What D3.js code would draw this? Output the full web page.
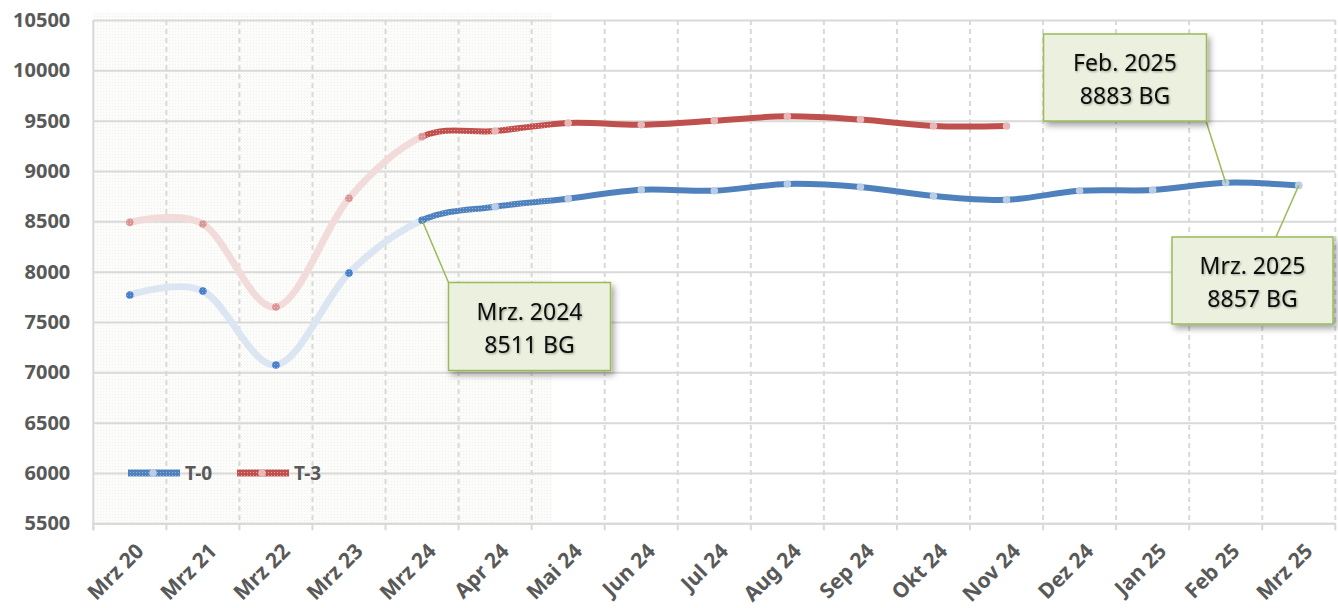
<!DOCTYPE html>
<html><head><meta charset="utf-8">
<script src="https://cdn.jsdelivr.net/npm/d3@7"></script>
<style>
html,body{margin:0;padding:0;background:#fff;}
svg{display:block;}
</style></head>
<body>
<svg id="chart" width="1338" height="608"></svg>
<script>
// ---- data ----
const categories = ["Mrz 20","Mrz 21","Mrz 22","Mrz 23","Mrz 24","Apr 24","Mai 24","Jun 24","Jul 24","Aug 24","Sep 24","Okt 24","Nov 24","Dez 24","Jan 25","Feb 25","Mrz 25"];
const seriesT0 = [7768,7808,7073,7987,8511,8645,8725,8814,8804,8871,8841,8752,8714,8804,8811,8883,8857];
const seriesT3 = [8490,8473,7649,8729,9341,9397,9477,9460,9500,9543,9511,9447,9447];
const seriesNames = ["T-0","T-3"];
const yTickValues = [5500,6000,6500,7000,7500,8000,8500,9000,9500,10000,10500];
const calloutIndex = [4,15,16];
const calloutTitles = ["Mrz. 2024","Feb. 2025","Mrz. 2025"];

// ---- layout ----
const W = 1338, H = 608;
const L = 93.3, R = 1335.3, T = 20, B = 523.3;
const svg = d3.select("#chart");
const defs = svg.append("defs");

const x = d3.scaleBand().domain(categories).range([L, R]).padding(0);
const bw = x.bandwidth();
const cx = c => x(c) + bw / 2;
const y = d3.scaleLinear().domain([5500, 10500]).range([B, T]);

// patterns
function stipple(id, base, dot) {
  const p = defs.append("pattern").attr("id", id).attr("patternUnits", "userSpaceOnUse")
    .attr("width", 3).attr("height", 3);
  p.append("rect").attr("width", 3).attr("height", 3).attr("fill", base);
  p.append("rect").attr("x", 1).attr("y", 1).attr("width", 1).attr("height", 1).attr("fill", dot);
}
stipple("bgStip", "#fcfcfa", "#f0f0eb");
stipple("stipB", "#4f81bd", "#8fb0da");
stipple("stipR", "#c0504d", "#e29b98");
stipple("stipBm", "#4a7fc9", "#84a9de");
stipple("stipRm", "#d99694", "#ecc0be");

const sh = defs.append("filter").attr("id", "shadow").attr("x", "-20%").attr("y", "-20%").attr("width", "150%").attr("height", "160%");
sh.append("feDropShadow").attr("dx", 3).attr("dy", 4).attr("stdDeviation", 3).attr("flood-color", "#000").attr("flood-opacity", 0.35);
const tsh = defs.append("filter").attr("id", "tshadow").attr("x", "-10%").attr("y", "-20%").attr("width", "130%").attr("height", "160%");
tsh.append("feDropShadow").attr("dx", 1).attr("dy", 1).attr("stdDeviation", 0.8).attr("flood-color", "#000").attr("flood-opacity", 0.35);

// stippled background region (up to stipple end)
const stipEnd = 552;
svg.append("rect").attr("x", L).attr("y", 13).attr("width", stipEnd - L).attr("height", B - 13)
  .attr("fill", "url(#bgStip)");

// horizontal gridlines via axis
const yAxis = d3.axisLeft(y).tickValues(yTickValues).tickSize(-(R - L)).tickFormat(d3.format("d")).tickPadding(22);
const gy = svg.append("g").attr("transform", `translate(${L},0)`).call(yAxis);
gy.select(".domain").remove();
gy.selectAll(".tick line").attr("stroke", "#d9d9d9").attr("stroke-width", 2);
gy.selectAll(".tick text").attr("fill", "#595959").style("font-family", "'Noto Sans', sans-serif")
  .style("font-size", "20px").style("font-weight", "bold").attr("x", -23);

// vertical dashed gridlines at band boundaries
const bounds = categories.map((c) => x(c) + bw);
svg.append("g").selectAll("line").data(bounds).join("line")
  .attr("x1", d => d).attr("x2", d => d).attr("y1", T).attr("y2", B)
  .attr("stroke", "#d9d9d9").attr("stroke-width", 2).attr("stroke-dasharray", "5,4");
// left axis line
svg.append("line").attr("x1", L).attr("x2", L).attr("y1", T).attr("y2", B + 7)
  .attr("stroke", "#d9d9d9").attr("stroke-width", 2);
// bottom axis
const xAxis = d3.axisBottom(x).tickSize(0).tickFormat(d => d);
const gx = svg.append("g").attr("transform", `translate(0,${B})`).call(xAxis);
gx.select(".domain").attr("stroke", "#d9d9d9").attr("stroke-width", 2);
gx.selectAll(".tick line").remove();
gx.selectAll(".tick text")
  .attr("fill", "#595959").style("font-family", "'Noto Sans', sans-serif")
  .style("font-size", "21px").style("font-weight", "bold")
  .attr("text-anchor", "end").attr("dy", "0.35em").attr("y", 0)
  .attr("transform", `translate(10,24) rotate(-45)`);
// small ticks under axis at boundaries
svg.append("g").selectAll("line").data([L].concat(bounds)).join("line")
  .attr("x1", d => d).attr("x2", d => d).attr("y1", B).attr("y2", B + 7)
  .attr("stroke", "#d9d9d9").attr("stroke-width", 2);

// ---- lines ----
const line = d3.line().x((d, i) => cx(categories[i])).y(d => y(d)).curve(d3.curveCardinal.tension(0));
const xStart = cx(categories[4]);
function clip(id, x0, x1) {
  defs.append("clipPath").attr("id", id).append("rect").attr("x", x0).attr("y", 0).attr("width", x1 - x0).attr("height", H);
}
clip("cFade", 0, xStart);
clip("cStip", xStart, stipEnd);
clip("cSolid", stipEnd, W);

const series = [
  {data: seriesT3, fade: "#f2dcdb", solid: "#c0504d", stip: "url(#stipR)", mDark: "url(#stipRm)", mLight: "#e6b9b8"},
  {data: seriesT0, fade: "#dce6f2", solid: "#4f81bd", stip: "url(#stipB)", mDark: "url(#stipBm)", mLight: "#b9cde5"}
];
const lw = 6;
series.forEach(s => {
  const d = line(s.data);
  svg.append("path").attr("d", d).attr("fill", "none").attr("stroke", s.fade).attr("stroke-width", lw + 1)
    .attr("stroke-linecap", "round").attr("clip-path", "url(#cFade)");
  svg.append("path").attr("d", d).attr("fill", "none").attr("stroke", s.stip).attr("stroke-width", lw)
    .attr("clip-path", "url(#cStip)");
  svg.append("path").attr("d", d).attr("fill", "none").attr("stroke", s.solid).attr("stroke-width", lw)
    .attr("stroke-linecap", "round").attr("clip-path", "url(#cSolid)");
  svg.append("g").selectAll("circle").data(s.data).join("circle")
    .attr("cx", (v, i) => cx(categories[i])).attr("cy", v => y(v)).attr("r", 3.8)
    .attr("fill", (v, i) => i <= 4 ? s.mDark : s.mLight);
});

// ---- legend ----
const legY = y(6000);
const leg = [
  {x0: 128, name: seriesNames[0], stip: "url(#stipB)", m: "#b9cde5"},
  {x0: 237, name: seriesNames[1], stip: "url(#stipR)", m: "#e6b9b8"}
];
leg.forEach(l => {
  svg.append("rect").attr("x", l.x0).attr("y", legY - 3.5).attr("width", 52).attr("height", 7).attr("fill", l.stip);
  svg.append("circle").attr("cx", l.x0 + 25).attr("cy", legY).attr("r", 3.8).attr("fill", l.m);
  svg.append("text").attr("x", l.x0 + 57).attr("y", legY).attr("dy", "0.36em").text(l.name)
    .attr("fill", "#595959").style("font-family", "'Noto Sans', sans-serif").style("font-size", "19px").style("font-weight", "bold");
});

// ---- callouts ----
const boxes = [
  {bx: 448.5, by: 282.5, bw: 162, bh: 88, ax: 448.5, ay: 282.5},
  {bx: 1043.5, by: 34, bw: 163, bh: 87, ax: 1206, ay: 121},
  {bx: 1172, by: 237, bw: 161, bh: 87, ax: 1276, ay: 237}
];
calloutIndex.forEach((idx, k) => {
  const b = boxes[k];
  const px = cx(categories[idx]), py = y(seriesT0[idx]);
  svg.append("line").attr("x1", px).attr("y1", py).attr("x2", b.ax).attr("y2", b.ay)
    .attr("stroke", "#9bbb59").attr("stroke-width", 1.5);
  svg.append("rect").attr("x", b.bx).attr("y", b.by).attr("width", b.bw).attr("height", b.bh)
    .attr("fill", "#ebf1de").attr("stroke", "#9bbb59").attr("stroke-width", 1.5).attr("filter", "url(#shadow)");
  const t = svg.append("text").attr("text-anchor", "middle").attr("fill", "#111")
    .style("font-family", "'Noto Sans', sans-serif").style("font-size", "23px").attr("filter", "url(#tshadow)");
  t.append("tspan").attr("x", b.bx + b.bw / 2).attr("y", b.by + 37).text(calloutTitles[k]);
  t.append("tspan").attr("x", b.bx + b.bw / 2).attr("y", b.by + 70).text(seriesT0[idx] + " BG");
});
</script>
</body></html>
